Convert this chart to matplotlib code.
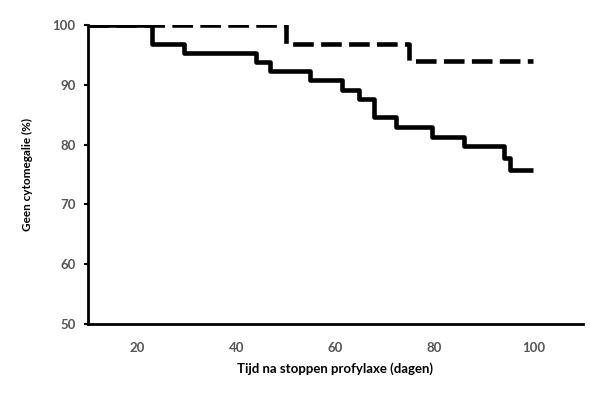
import matplotlib
matplotlib.use("Agg")
import matplotlib.pyplot as plt

# solid curve (step changes)
solid_t = [10, 23, 29.5, 44, 46.8, 54.9, 61.3, 64.7, 67.8, 72.2, 79.5, 85.9, 94.0, 95.3, 100]
solid_y = [100, 96.9, 95.4, 93.9, 92.4, 90.8, 89.2, 87.7, 84.6, 82.9, 81.3, 79.7, 77.8, 75.8, 75.8]

# dashed curve
dash_t = [10, 50.1, 74.9, 100]
dash_y = [100, 96.9, 94.0, 94.0]

xticks = [20, 40, 60, 80, 100]
yticks = [50, 60, 70, 80, 90, 100]

plt.rcParams['font.family'] = ['Lato', 'DejaVu Sans']

fig = plt.figure(figsize=(5.9, 3.98), dpi=100)
ax = fig.add_axes([0.149, 0.186, 0.839, 0.751])

ax.step(solid_t, solid_y, where='post', color='black', lw=3.3, solid_capstyle='butt')
ax.step(dash_t, dash_y, where='post', color='black', lw=3.3, dashes=(4.5, 1.6))

ax.set_xlim(10, 110)
ax.set_ylim(50, 100)
ax.set_xticks(xticks)
ax.set_yticks(yticks)

for s in ['top', 'right']:
    ax.spines[s].set_visible(False)
for s in ['left', 'bottom']:
    ax.spines[s].set_linewidth(2.0)

ax.tick_params(axis='x', length=0, pad=13, labelsize=9.5, labelcolor='#555555')
ax.tick_params(axis='y', length=3, width=1.5, pad=6, labelsize=9.5, labelcolor='#555555')
for lbl in ax.get_xticklabels() + ax.get_yticklabels():
    lbl.set_fontweight('bold')

ax.set_xlabel('Tijd na stoppen profylaxe (dagen)', fontsize=9.5, fontweight='bold', labelpad=6)
ax.set_ylabel('Geen cytomegalie (%)', fontsize=8.5, fontweight='bold', labelpad=14)

fig.savefig('out.png', dpi=100)
